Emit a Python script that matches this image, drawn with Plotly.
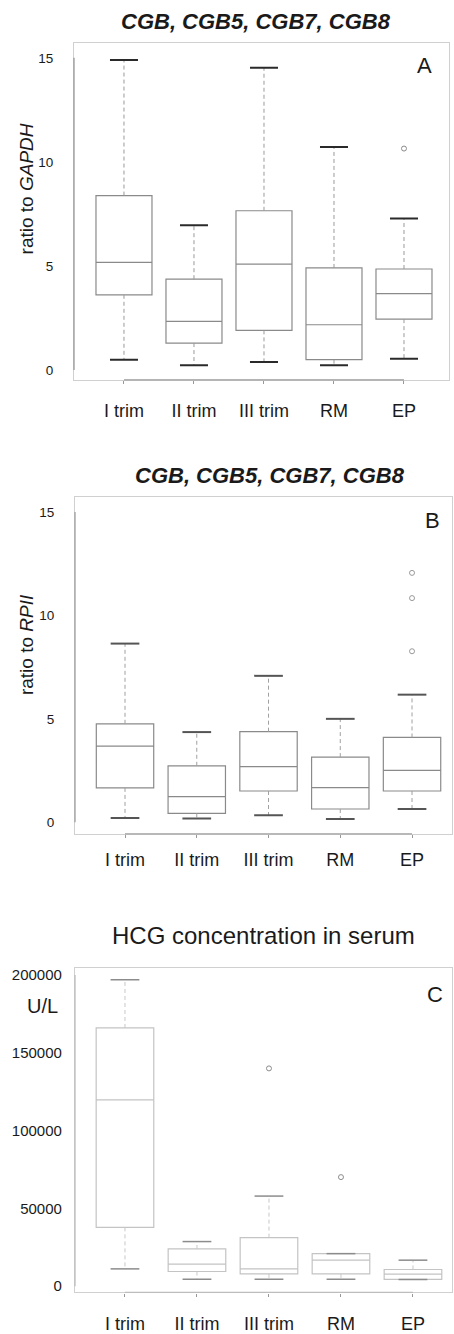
import plotly.graph_objects as go

W, H = 454, 1334
groups = ["I trim", "II trim", "III trim", "RM", "EP"]

# Panel A: ratio to GAPDH
a_low = [0.49, 0.22, 0.38, 0.22, 0.54]
a_q1 = [3.61, 1.29, 1.90, 0.49, 2.44]
a_med = [5.17, 2.33, 5.08, 2.17, 3.67]
a_q3 = [8.38, 4.36, 7.65, 4.90, 4.85]
a_up = [14.9, 6.95, 14.53, 10.72, 7.28]
a_out_x = ["EP"]
a_out_y = [10.64]

# Panel B: ratio to RPII
b_low = [0.21, 0.18, 0.34, 0.15, 0.64]
b_q1 = [1.66, 0.43, 1.51, 0.64, 1.51]
b_med = [3.68, 1.24, 2.69, 1.67, 2.51]
b_q3 = [4.76, 2.73, 4.38, 3.15, 4.10]
b_up = [8.64, 4.36, 7.08, 5.00, 6.17]
b_out_x = ["EP", "EP", "EP"]
b_out_y = [12.06, 10.84, 8.27]

# Panel C: HCG concentration in serum (U/L)
c_low = [11100, 4490, 4490, 4490, 4300]
c_q1 = [37800, 9420, 7880, 7880, 4300]
c_med = [119700, 14100, 11100, 16700, 7700]
c_q3 = [166000, 23900, 31200, 20900, 10700]
c_up = [197000, 28650, 57900, 20900, 16700]
c_out_x = ["III trim", "RM"]
c_out_y = [140000, 70100]

y_ticks_ab = [0, 5, 10, 15]
y_ticks_c = [0, 50000, 100000, 150000, 200000]

FONT = "Liberation Sans, Arial, sans-serif"
TXT = "#1a1a1a"

fig = go.Figure()

panels = [
    dict(low=a_low, q1=a_q1, med=a_med, q3=a_q3, up=a_up, ox=a_out_x, oy=a_out_y,
         xa="x", ya="y", box_col="#8a8a8a", wh_col="#9a9a9a", cap_col="#2a2a2a", cap_w=2,
         out_col="#8a8a8a", yt=y_ticks_ab, ax_col="#9a9a9a"),
    dict(low=b_low, q1=b_q1, med=b_med, q3=b_q3, up=b_up, ox=b_out_x, oy=b_out_y,
         xa="x2", ya="y2", box_col="#8a8a8a", wh_col="#a0a0a0", cap_col="#555555", cap_w=2,
         out_col="#9a9a9a", yt=y_ticks_ab, ax_col="#a0a0a0"),
    dict(low=c_low, q1=c_q1, med=c_med, q3=c_q3, up=c_up, ox=c_out_x, oy=c_out_y,
         xa="x3", ya="y3", box_col="#c4c4c4", wh_col="#c8c8c8", cap_col="#8c8c8c", cap_w=1.5,
         out_col="#8c8c8c", yt=y_ticks_c, ax_col="#bdbdbd"),
]

for p in panels:
    idx = list(range(len(groups)))
    # box + median
    fig.add_trace(go.Box(
        x=idx, q1=p["q1"], median=p["med"], q3=p["q3"],
        lowerfence=p["q1"], upperfence=p["q3"],
        width=0.8, whiskerwidth=0, fillcolor="white",
        line=dict(color=p["box_col"], width=1.2), boxpoints=False,
        xaxis=p["xa"], yaxis=p["ya"], showlegend=False, hoverinfo="skip"))
    # dashed whiskers
    wx, wy = [], []
    for i in idx:
        wx += [i, i, None, i, i, None]
        wy += [p["q3"][i], p["up"][i], None, p["q1"][i], p["low"][i], None]
    fig.add_trace(go.Scatter(x=wx, y=wy, mode="lines",
                             line=dict(color=p["wh_col"], width=1, dash="4px,3px"),
                             xaxis=p["xa"], yaxis=p["ya"], showlegend=False, hoverinfo="skip"))
    # caps
    cx, cy = [], []
    for i in idx:
        cx += [i - 0.2, i + 0.2, None, i - 0.2, i + 0.2, None]
        cy += [p["up"][i], p["up"][i], None, p["low"][i], p["low"][i], None]
    fig.add_trace(go.Scatter(x=cx, y=cy, mode="lines",
                             line=dict(color=p["cap_col"], width=p["cap_w"]),
                             xaxis=p["xa"], yaxis=p["ya"], showlegend=False, hoverinfo="skip"))
    # outliers
    fig.add_trace(go.Scatter(x=[groups.index(g) for g in p["ox"]], y=p["oy"], mode="markers",
                             marker=dict(symbol="circle-open", size=5, color=p["out_col"],
                                         line=dict(width=1)),
                             xaxis=p["xa"], yaxis=p["ya"], showlegend=False, hoverinfo="skip"))
    # darker axis segments spanning the tick range (R style)
    fig.add_shape(type="line", xref=p["xa"] + " domain", yref=p["ya"],
                  x0=0, x1=0, y0=p["yt"][0], y1=p["yt"][-1],
                  line=dict(color=p["ax_col"], width=1.3))
    fig.add_shape(type="line", xref=p["xa"], yref=p["ya"] + " domain",
                  x0=idx[0], x1=idx[-1], y0=0, y1=0,
                  line=dict(color=p["ax_col"], width=1.3))


def xax(x0, x1, rng, std):
    return dict(domain=[x0 / W, x1 / W], range=rng, tickmode="array",
                tickvals=list(range(len(groups))), ticktext=groups,
                showline=True, linecolor="#d0d0d0", linewidth=1.2, mirror=True,
                ticks="outside", ticklen=3, tickcolor="#999999",
                ticklabelstandoff=std, showgrid=False, zeroline=False,
                tickfont=dict(family=FONT, size=18, color=TXT))


def yax(top, bot, rng, ticks, std, size):
    return dict(domain=[1 - bot / H, 1 - top / H], range=rng, tickmode="array",
                tickvals=ticks, ticktext=[str(t) for t in ticks],
                showline=True, linecolor="#d0d0d0", linewidth=1.2, mirror=True,
                ticks="", ticklabelstandoff=std, showgrid=False, zeroline=False,
                tickfont=dict(family=FONT, size=size, color=TXT))


fig.update_layout(
    width=W, height=H, margin=dict(l=0, r=0, t=0, b=0),
    paper_bgcolor="white", plot_bgcolor="white",
    xaxis=dict(xax(74, 449, [-0.714, 4.643], 11), anchor="y"),
    yaxis=dict(yax(41, 379, [-0.48, 15.72], y_ticks_ab, 17, 13.5), anchor="x"),
    xaxis2=dict(xax(75, 452, [-0.697, 4.557], 7), anchor="y2"),
    yaxis2=dict(yax(496.7, 834.3, [-0.56, 15.72], y_ticks_ab, 17, 13.5), anchor="x2"),
    xaxis3=dict(xax(75, 452, [-0.694, 4.542], 12), anchor="y3"),
    yaxis3=dict(yax(969, 1294.3, [-4040, 204490], y_ticks_c, 9, 15), anchor="x3"),
)

ann = [
    dict(text="<b><i>CGB, CGB5, CGB7, CGB8</i></b>", x=256, y=20, size=22),
    dict(text="<b><i>CGB, CGB5, CGB7, CGB8</i></b>", x=270, y=475, size=22),
    dict(text="HCG concentration in serum", x=263, y=936, size=24),
    dict(text="A", x=424, y=64, size=22),
    dict(text="B", x=432, y=520, size=22),
    dict(text="C", x=435, y=995, size=22),
    dict(text="U/L", x=42, y=1007, size=20),
]
for a in ann:
    fig.add_annotation(text=a["text"], x=a["x"] / W, y=1 - a["y"] / H, xref="paper", yref="paper",
                       showarrow=False, xanchor="center", yanchor="middle",
                       font=dict(family=FONT, size=a["size"], color=TXT))

for txt, yc in [("ratio to <i>GAPDH</i>", 188), ("ratio to <i>RPII</i>", 645)]:
    fig.add_annotation(text=txt, x=26 / W, y=1 - yc / H, xref="paper", yref="paper",
                       showarrow=False, textangle=-90, xanchor="center", yanchor="middle",
                       font=dict(family=FONT, size=19, color=TXT))

fig.write_html("out.html", config={"displayModeBar": False},
               post_script="document.body.style.margin='0';document.body.style.overflow='hidden';")
